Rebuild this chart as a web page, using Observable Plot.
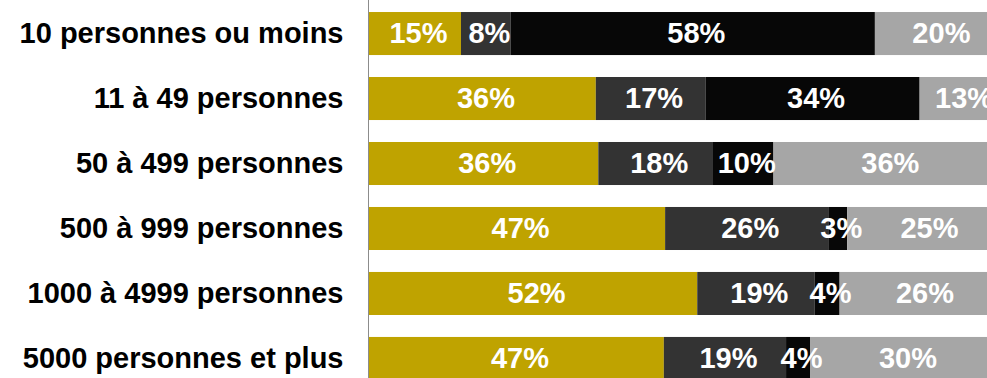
<!DOCTYPE html>
<html>
<head>
<meta charset="utf-8">
<script src="https://cdn.jsdelivr.net/npm/d3@7"></script>
<script src="https://cdn.jsdelivr.net/npm/@observablehq/plot@0.6"></script>
<style>
  html, body { margin: 0; padding: 0; background: #fff; overflow: hidden; }
  #chart { width: 987px; height: 378px; overflow: hidden; }
  #chart svg { max-width: none !important; }
</style>
</head>
<body>
<div id="chart"></div>
<script>
const categories = [
  "10 personnes ou moins",
  "11 à 49 personnes",
  "50 à 499 personnes",
  "500 à 999 personnes",
  "1000 à 4999 personnes",
  "5000 personnes et plus"
];
const seriesNames = ["S1", "S2", "S3", "S4"];
const s1 = [14.6, 36.0, 36.4, 47.0, 52.1, 46.8];
const s2 = [7.9, 17.4, 18.2, 25.9, 18.6, 19.4];
const s3 = [57.8, 34.0, 9.6, 3.0, 4.0, 3.8];
const s4 = [20.0, 13.0, 36.0, 25.0, 26.0, 30.0];
const colors = ["#bfa300", "#333333", "#070707", "#a6a6a6"];

const seriesValues = [s1, s2, s3, s4];
const data = [];
categories.forEach((c, i) => {
  seriesNames.forEach((s, j) => {
    data.push({cat: c, series: s, value: seriesValues[j][i]});
  });
});

const font = "'Liberation Sans', Arial, sans-serif";

const chart = Plot.plot({
  width: 1000,
  height: 392,
  marginLeft: 369,
  marginRight: 1,
  marginTop: 0,
  marginBottom: 0,
  style: {fontFamily: font, background: "#fff", maxWidth: "none"},
  x: {domain: [0, 100], axis: null},
  y: {domain: categories, paddingInner: 0.338, paddingOuter: 0.185, round: false, axis: null, label: null},
  color: {domain: seriesNames, range: colors},
  marks: [
    Plot.barX(data, {x: "value", y: "cat", fill: "series", order: seriesNames}),
    Plot.text(data, Plot.stackX({
      x: "value", y: "cat", z: "series", order: seriesNames,
      text: d => Math.round(d.value) + "%",
      fill: "white", fontSize: 29, fontWeight: "bold", dx: 3
    })),
    Plot.ruleX([0], {stroke: "#8c8c8c", strokeWidth: 1, dx: -1}),
    Plot.axisY({
      label: null, tickSize: 0, tickPadding: 26, fontSize: 29, fontWeight: "bold",
      fill: "#000", textAnchor: "end"
    })
  ]
});
document.getElementById("chart").appendChild(chart);
</script>
</body>
</html>
